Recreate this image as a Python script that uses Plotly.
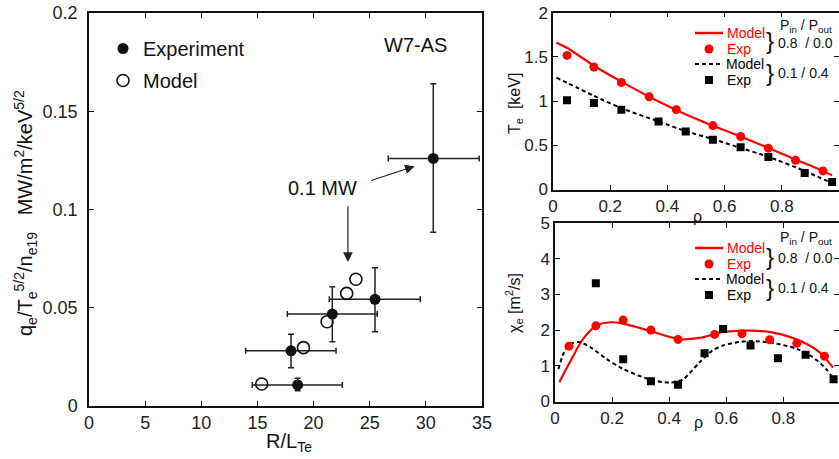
import plotly.graph_objects as go

W, H = 839, 459
FONT = "Liberation Sans, Arial, sans-serif"

# ---------------- Left panel data ----------------
exp_x = [30.66, 25.47, 21.67, 17.99, 18.58]
exp_y = [0.126, 0.0543, 0.0468, 0.0281, 0.0107]
exp_xerr_plus = [4.09, 4.03, 4.00, 4.01, 3.98]
exp_xerr_minus = [4.01, 4.07, 4.01, 4.04, 4.04]
exp_yerr_plus = [0.038, 0.0161, 0.0139, 0.0084, 0.0034]
exp_yerr_minus = [0.0376, 0.0165, 0.0141, 0.0086, 0.0029]

mod_x = [15.38, 19.10, 21.20, 22.95, 23.77]
mod_y = [0.0112, 0.0297, 0.0429, 0.0573, 0.0645]

# ---------------- Right top: Te profiles ----------------
te_exp_hi_rho = [0.049, 0.143, 0.239, 0.336, 0.431, 0.559, 0.656, 0.753, 0.848, 0.944]
te_exp_hi = [1.517, 1.386, 1.21, 1.049, 0.903, 0.723, 0.599, 0.468, 0.33, 0.21]
te_mod_hi_rho = [0.012, 0.05, 0.143, 0.239, 0.336, 0.431, 0.5, 0.559, 0.656, 0.753, 0.848, 0.944, 0.976]
te_mod_hi = [1.66, 1.60, 1.40, 1.22, 1.05, 0.90, 0.80, 0.72, 0.60, 0.47, 0.34, 0.21, 0.16]

te_exp_lo_rho = [0.049, 0.143, 0.239, 0.369, 0.464, 0.559, 0.656, 0.753, 0.88, 0.976]
te_exp_lo = [1.011, 0.978, 0.903, 0.768, 0.655, 0.562, 0.479, 0.367, 0.187, 0.086]
te_mod_lo_rho = [0.012, 0.143, 0.239, 0.369, 0.464, 0.559, 0.656, 0.753, 0.88, 0.99]
te_mod_lo = [1.266, 1.06, 0.92, 0.77, 0.66, 0.57, 0.47, 0.37, 0.21, 0.05]

# ---------------- Right bottom: chi_e profiles ----------------
chi_exp_hi_rho = [0.049, 0.143, 0.239, 0.336, 0.431, 0.559, 0.655, 0.752, 0.847, 0.944]
chi_exp_hi = [1.55, 2.12, 2.28, 2.0, 1.74, 1.88, 1.90, 1.73, 1.63, 1.27]
chi_mod_hi_rho = [0.015, 0.052, 0.099, 0.146, 0.204, 0.25, 0.332, 0.431, 0.507, 0.589,
                  0.647, 0.705, 0.763, 0.822, 0.88, 0.927, 0.974]
chi_mod_hi = [0.54, 1.10, 1.76, 2.13, 2.22, 2.16, 1.98, 1.75, 1.78, 1.95,
              1.98, 1.98, 1.93, 1.81, 1.62, 1.38, 0.95]

chi_exp_lo_rho = [0.143, 0.239, 0.336, 0.431, 0.524, 0.589, 0.685, 0.781, 0.878, 0.976]
chi_exp_lo = [3.31, 1.18, 0.57, 0.47, 1.35, 2.03, 1.57, 1.21, 1.31, 0.62]
chi_mod_lo_rho = [0.012, 0.029, 0.046, 0.081, 0.122, 0.181, 0.239, 0.332, 0.402, 0.449,
                  0.472, 0.507, 0.55, 0.589, 0.647, 0.705, 0.775, 0.845, 0.903, 0.95, 0.985]
chi_mod_lo = [0.91, 1.33, 1.57, 1.67, 1.53, 1.19, 0.91, 0.62, 0.53, 0.62,
              0.80, 1.10, 1.42, 1.57, 1.67, 1.69, 1.62, 1.48, 1.24, 0.91, 0.53]

RED = "#ff0000"
BLK = "#000000"
DOT = "4px,3px"


def PX(x):
    return x / W


def PY(y):
    return 1 - y / H


fig = go.Figure()

# ---- left panel traces ----
fig.add_trace(go.Scatter(
    x=exp_x, y=exp_y, mode="markers", xaxis="x", yaxis="y", showlegend=False,
    marker=dict(color="#111", size=11, symbol="circle"),
    error_x=dict(type="data", symmetric=False, array=exp_xerr_plus, arrayminus=exp_xerr_minus,
                 color="#222", thickness=1.5, width=3),
    error_y=dict(type="data", symmetric=False, array=exp_yerr_plus, arrayminus=exp_yerr_minus,
                 color="#222", thickness=1.5, width=3),
))
fig.add_trace(go.Scatter(
    x=mod_x, y=mod_y, mode="markers", xaxis="x", yaxis="y", showlegend=False,
    marker=dict(color="#111", size=12, symbol="circle-open", line=dict(width=1.6, color="#111")),
))
# legend entries for left panel
fig.add_trace(go.Scatter(x=[None], y=[None], mode="markers", name="Experiment", xaxis="x", yaxis="y",
                         legendgroup="a", marker=dict(color="#111", size=11, symbol="circle")))
fig.add_trace(go.Scatter(x=[None], y=[None], mode="markers", name="Model", xaxis="x", yaxis="y",
                         legendgroup="b",
                         marker=dict(color="#111", size=12, symbol="circle-open",
                                     line=dict(width=1.6, color="#111"))))

# ---- right top ----
fig.add_trace(go.Scatter(x=te_mod_hi_rho, y=te_mod_hi, mode="lines", xaxis="x2", yaxis="y2",
                         showlegend=False, line=dict(color=RED, width=2.2, shape="spline", smoothing=0.6)))
fig.add_trace(go.Scatter(x=te_mod_lo_rho, y=te_mod_lo, mode="lines", xaxis="x2", yaxis="y2",
                         showlegend=False, line=dict(color=BLK, width=2, dash=DOT, shape="spline", smoothing=0.6)))
fig.add_trace(go.Scatter(x=te_exp_hi_rho, y=te_exp_hi, mode="markers", xaxis="x2", yaxis="y2",
                         showlegend=False, marker=dict(color=RED, size=9, symbol="circle")))
fig.add_trace(go.Scatter(x=te_exp_lo_rho, y=te_exp_lo, mode="markers", xaxis="x2", yaxis="y2",
                         showlegend=False, marker=dict(color=BLK, size=8, symbol="square")))

# ---- right bottom ----
fig.add_trace(go.Scatter(x=chi_mod_hi_rho, y=chi_mod_hi, mode="lines", xaxis="x3", yaxis="y3",
                         showlegend=False, line=dict(color=RED, width=2.2, shape="spline", smoothing=0.8)))
fig.add_trace(go.Scatter(x=chi_mod_lo_rho, y=chi_mod_lo, mode="lines", xaxis="x3", yaxis="y3",
                         showlegend=False, line=dict(color=BLK, width=2, dash=DOT, shape="spline", smoothing=0.8)))
fig.add_trace(go.Scatter(x=chi_exp_hi_rho, y=chi_exp_hi, mode="markers", xaxis="x3", yaxis="y3",
                         showlegend=False, marker=dict(color=RED, size=9, symbol="circle")))
fig.add_trace(go.Scatter(x=chi_exp_lo_rho, y=chi_exp_lo, mode="markers", xaxis="x3", yaxis="y3",
                         showlegend=False, marker=dict(color=BLK, size=8, symbol="square")))

axis_common = dict(showline=True, linecolor="#111", linewidth=1.5, mirror="allticks", ticks="inside",
                   tickcolor="#111", showgrid=False, zeroline=False, automargin=False)

LT = dict(size=18, color="#222", family=FONT)
RT = dict(size=17, color="#222", family=FONT)

fig.update_layout(
    width=W, height=H, margin=dict(l=0, r=0, t=0, b=0, autoexpand=False),
    paper_bgcolor="white", plot_bgcolor="white",
    font=dict(family=FONT, color="#111"),
    xaxis=dict(domain=[PX(89), PX(482)], range=[0, 35], dtick=5, tick0=0, anchor="y",
               ticklen=5, tickwidth=1.2, tickfont=LT, **axis_common),
    yaxis=dict(domain=[PY(406), PY(13)], range=[0, 0.2], dtick=0.05, tick0=0, anchor="x",
               ticklen=5, tickwidth=1.2, tickfont=LT, ticklabelstandoff=6, **axis_common),
    xaxis2=dict(domain=[PX(553), 1], range=[0, 1], dtick=0.2, anchor="y2",
                ticklen=5, tickwidth=1.2, tickfont=RT, **axis_common),
    yaxis2=dict(domain=[PY(189.5), PY(12.7)], range=[0, 2], dtick=0.5, anchor="x2",
                ticklen=5, tickwidth=1.2, tickfont=RT, **axis_common),
    xaxis3=dict(domain=[PX(555), 1], range=[0, 0.995], dtick=0.2, anchor="y3",
                ticklen=5, tickwidth=1.2, tickfont=RT, **axis_common),
    yaxis3=dict(domain=[PY(401.5), PY(223)], range=[0, 5], dtick=1, anchor="x3",
                ticklen=5, tickwidth=1.2, tickfont=RT, **axis_common),
    legend=dict(x=PX(103), y=PY(29), xanchor="left", yanchor="top", bgcolor="rgba(0,0,0,0)",
                font=dict(size=20, color="#111", family=FONT), tracegroupgap=3,
                itemwidth=30),
)

ann = []


def txt(x, y, s, size, color="#111", xanchor="center", yanchor="middle", angle=0):
    ann.append(dict(x=PX(x), y=PY(y), xref="paper", yref="paper", text=s, showarrow=False,
                    xanchor=xanchor, yanchor=yanchor, textangle=angle,
                    font=dict(size=size, color=color, family=FONT)))


# left panel labels
txt(415, 45, "W7-AS", 20)
txt(25, 213, "q<sub>e</sub>/T<sub>e</sub><sup>5/2</sup>/n<sub>e19</sub>   MW/m<sup>2</sup>/keV<sup>5/2</sup>",
    20, angle=-90)
txt(289, 442, "R/L<sub>Te</sub>", 20)
txt(322, 188, "0.1 MW", 20)

# arrows (data coordinates)
ann.append(dict(x=29.0, y=0.122, ax=25.0, ay=0.1145, xref="x", yref="y", axref="x", ayref="y",
                text="", showarrow=True, arrowhead=2, arrowsize=1.6, arrowwidth=1.2, arrowcolor="#222"))
ann.append(dict(x=23.06, y=0.0733, ax=23.06, ay=0.1024, xref="x", yref="y", axref="x", ayref="y",
                text="", showarrow=True, arrowhead=2, arrowsize=1.6, arrowwidth=1.2, arrowcolor="#222"))

# right panels axis titles
txt(516, 104, "T<sub>e</sub>  [keV]", 16, angle=-90)
txt(514, 303, "χ<sub>e</sub> [m<sup>2</sup>/s]", 16, angle=-90)
txt(697, 216, "ρ", 16)
txt(698, 422, "ρ", 16)

shapes = []


def legend_block(y0, yp):
    rows = [y0, y0 + 16, y0 + 31, y0 + 47]
    shapes.append(dict(type="line", xref="paper", yref="paper", x0=PX(695), x1=PX(723),
                       y0=PY(rows[0]), y1=PY(rows[0]), line=dict(color=RED, width=2.5)))
    shapes.append(dict(type="circle", xref="paper", yref="paper", xsizemode="pixel", ysizemode="pixel",
                       xanchor=PX(709), yanchor=PY(rows[1]), x0=-4.5, x1=4.5, y0=-4.5, y1=4.5,
                       fillcolor=RED, line=dict(width=0)))
    shapes.append(dict(type="line", xref="paper", yref="paper", x0=PX(695), x1=PX(723),
                       y0=PY(rows[2]), y1=PY(rows[2]), line=dict(color=BLK, width=2, dash=DOT)))
    shapes.append(dict(type="rect", xref="paper", yref="paper", xsizemode="pixel", ysizemode="pixel",
                       xanchor=PX(709), yanchor=PY(rows[3]), x0=-4, x1=4, y0=-4, y1=4,
                       fillcolor=BLK, line=dict(width=0)))
    txt(725, rows[0], "Model", 14, RED, xanchor="left")
    txt(725, rows[1], "Exp", 14, RED, xanchor="left")
    txt(724, rows[2], "Model", 14, BLK, xanchor="left")
    txt(725, rows[3], "Exp", 14, BLK, xanchor="left")
    txt(770, (rows[0] + rows[1]) / 2, "}", 24, xanchor="center")
    txt(770, (rows[2] + rows[3]) / 2, "}", 24, xanchor="center")
    txt(776, (rows[0] + rows[1]) / 2 + 2, "0.8  / 0.0", 14, xanchor="left")
    txt(776, (rows[2] + rows[3]) / 2 + 1, "0.1 / 0.4", 14, xanchor="left")
    txt(778, yp, "P<sub>in</sub> / P<sub>out</sub>", 14, xanchor="left")


legend_block(33, 26)
legend_block(248, 238)

fig.update_layout(annotations=ann, shapes=shapes)
fig.write_html("out.html", config={"displayModeBar": False},
               post_script="document.body.style.margin='0px';document.body.style.overflow='hidden';")
